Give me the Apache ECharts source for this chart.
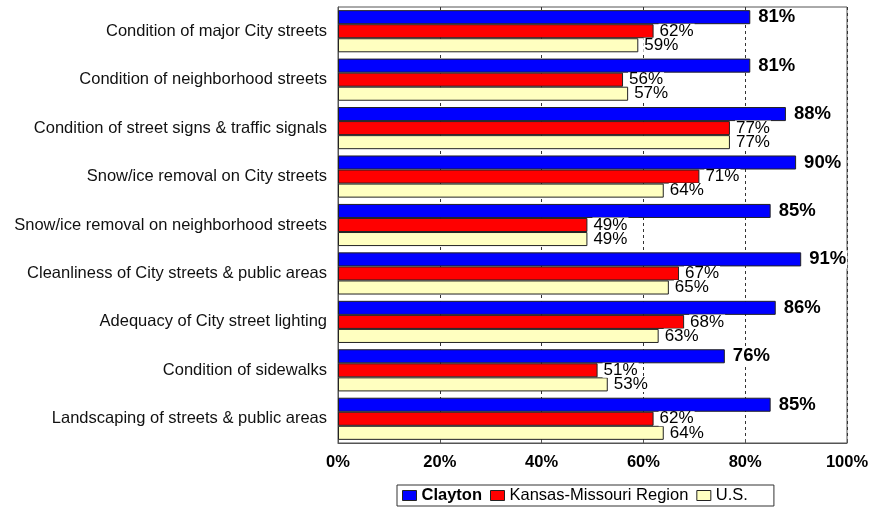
<!DOCTYPE html>
<html><head><meta charset="utf-8">
<script src="https://cdn.jsdelivr.net/npm/echarts@6/dist/echarts.min.js"></script>
<style>html,body{margin:0;padding:0;background:#fff}#c{width:884px;height:512px}</style>
</head><body><div id="c"></div>
<script>
const categories = [
  "Condition of major City streets",
  "Condition of neighborhood streets",
  "Condition of street signs & traffic signals",
  "Snow/ice removal on City streets",
  "Snow/ice removal on neighborhood streets",
  "Cleanliness of City streets & public areas",
  "Adequacy of City street lighting",
  "Condition of sidewalks",
  "Landscaping of streets & public areas"
];
const clayton = [81, 81, 88, 90, 85, 91, 86, 76, 85];
const region = [62, 56, 77, 71, 49, 67, 68, 51, 62];
const us = [59, 57, 77, 64, 49, 65, 63, 53, 64];
const xTicks = [0, 20, 40, 60, 80, 100];

const FONT = '"Liberation Sans", Arial, sans-serif';
const chart = echarts.init(document.getElementById('c'));
function mk(name, data, color, bold) {
  return {
    name, type: 'bar', data,
    barGap: '0%', barCategoryGap: '13%',
    itemStyle: { color, borderColor: '#222', borderWidth: 1 },
    label: {
      show: true, position: 'right', distance: bold ? 7 : 5,
      formatter: '{c}%', color: '#000', fontFamily: FONT,
      fontSize: bold ? 18.5 : 17, fontWeight: bold ? 'bold' : 'normal',
      backgroundColor: '#fff', padding: [0, 1, 0, 1], lineHeight: bold ? 18 : 15
    },
    animation: false, z: 3
  };
}
chart.setOption({
  backgroundColor: '#fff',
  animation: false,
  grid: { left: 338, right: 37, top: 7, bottom: 69, show: true, borderColor: '#555', borderWidth: 1, containLabel: false },
  xAxis: {
    type: 'value', min: 0, max: 100, interval: 20,
    axisLine: { show: true, lineStyle: { color: '#555' } },
    axisTick: { show: true, inside: true, length: 4, lineStyle: { color: '#555' } },
    axisLabel: { formatter: v => xTicks.includes(v) ? v + '%' : '', color: '#000', fontFamily: FONT, fontSize: 16.5, fontWeight: 'bold', margin: 11 },
    splitLine: { show: true, lineStyle: { color: '#333', type: [3, 3], width: 1 } }
  },
  yAxis: {
    type: 'category', data: categories, inverse: true,
    axisLine: { show: true, lineStyle: { color: '#555' } },
    axisTick: { show: false },
    axisLabel: { color: '#111', fontFamily: FONT, fontSize: 16.5, margin: 11 }
  },
  legend: {
    top: 485, left: 397, orient: 'horizontal',
    borderColor: '#333', borderWidth: 1, padding: [2, 26, 2, 5],
    icon: 'rect', itemWidth: 14, itemHeight: 10, itemGap: 8,
    textStyle: { fontFamily: FONT, fontSize: 16.5, color: '#000' },
    data: [
      { name: 'Clayton', textStyle: { fontWeight: 'bold' } },
      { name: 'Kansas-Missouri Region' },
      { name: 'U.S.' }
    ],
    itemStyle: { borderColor: '#222', borderWidth: 1 }
  },
  series: [
    mk('Clayton', clayton, '#0000ff', true),
    mk('Kansas-Missouri Region', region, '#ff0000', false),
    mk('U.S.', us, '#ffffc0', false)
  ]
});
</script></body></html>
